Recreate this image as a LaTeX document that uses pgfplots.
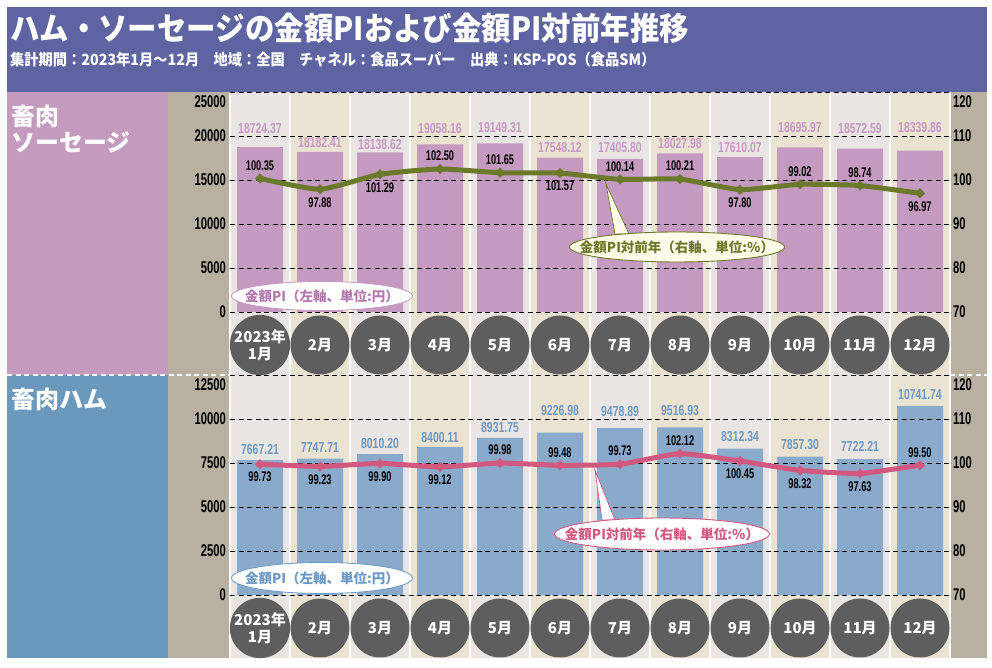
\documentclass[border=0pt]{standalone}
\usepackage{pgfplots}
\pgfplotsset{compat=1.18}
\usepackage{pgfplotstable}
\usepackage{fontspec}
\usetikzlibrary{shapes.geometric}
\setmainfont{Liberation Sans}
\newfontfamily\jp{Noto Sans CJK JP}
\newfontfamily\jptitle{Noto Sans CJK JP}[FakeStretch=0.92]
\newfontfamily\numc{Liberation Sans}[FakeStretch=0.66]
\newfontfamily\numd{Liberation Sans}[FakeStretch=0.72]

\definecolor{band}{RGB}{94,100,162}
\definecolor{sauspanel}{RGB}{196,154,191}
\definecolor{sausbar}{RGB}{196,154,192}
\definecolor{hampanel}{RGB}{107,153,190}
\definecolor{hambar}{RGB}{138,170,203}
\definecolor{strip}{RGB}{184,176,160}
\definecolor{colA}{RGB}{232,229,227}
\definecolor{colB}{RGB}{235,227,209}
\definecolor{circ}{RGB}{94,94,94}
\definecolor{sauslab}{RGB}{200,152,196}
\definecolor{sauslegend}{RGB}{180,120,175}
\definecolor{hamlab}{RGB}{108,152,196}
\definecolor{olive}{RGB}{107,122,42}
\definecolor{pinkl}{RGB}{210,88,128}
\definecolor{cream}{RGB}{255,251,232}

\pgfplotstableread{
x pi pish yoy ypos
0 18724.37 19 100.35 1
1 18182.41 9 97.88 -1
2 18138.62 8 101.29 -1
3 19058.16 16 102.50 1
4 19149.31 15.5 101.65 1
5 17548.12 10.5 101.57 -1
6 17405.80 11 100.14 1
7 18027.98 9.5 100.21 1
8 17610.07 10 97.80 -1
9 18695.97 19.5 99.02 1
10 18572.59 20.5 98.74 1
11 18339.86 22.6 96.97 -1
}\saus

\pgfplotstableread{
x pi pish yoy ypos
0 7667.21 11 99.73 -1
1 7747.71 11.6 99.23 -1
2 8010.20 11 99.90 -1
3 8400.11 10 99.12 -1
4 8931.75 10 99.98 1
5 9226.98 21.6 99.48 1
6 9478.89 17 99.73 1
7 9516.93 16.5 102.12 1
8 8312.34 11.7 100.45 -1
9 7857.30 11.7 98.32 -1
10 7722.21 13 97.63 -1
11 10741.74 11 99.50 1
}\ham

\pgfplotsset{
  base/.style={
    scale only axis, width=720bp, height=220bp,
    xmin=-0.5, xmax=11.5, clip=false,
    axis line style={draw=none}, major tick length=0pt,
    scaled y ticks=false,
    /pgf/number format/1000 sep={},
    /pgf/number format/assume math mode=true,
    tick label style={font=\numc\bfseries\fontsize{17bp}{17bp}\selectfont},
  },
  leftax/.style={
    base, ymajorgrids, axis on top,
    grid style={black, dash pattern=on 5bp off 3.5bp, line width=0.9bp},
    yticklabel style={anchor=east, inner sep=0pt, xshift=-4bp},
    extra y tick style={grid=major, yticklabel style={yshift=-10bp}},
    xtick={0,...,11},
    xticklabels={{2023年\\1月},2月,3月,4月,5月,6月,7月,8月,9月,10月,11月,12月},
    xticklabel style={circle, fill=circ, text=white, minimum size=59bp, inner sep=0pt,
      anchor=center, yshift=-33bp, align=center,
      font=\jp\bfseries\fontsize{15bp}{17bp}\selectfont},
  },
  rightax/.style={
    base, ymin=70, ymax=120, axis y line*=right, axis x line=none,
    ytick={70,80,...,110}, extra y ticks={120},
    extra y tick style={yticklabel style={yshift=-10bp}},
    yticklabel style={anchor=west, inner sep=0pt, xshift=3bp},
  },
}

\begin{document}
\begin{tikzpicture}[x=1bp, y=1bp]
\useasboundingbox (0,0) rectangle (992,668);
\fill[white] (0,0) rectangle (992,668);
% band
\fill[band] (7,576) rectangle (987,661);
\node[anchor=west, text=white, inner sep=0, font=\jptitle\bfseries\fontsize{32bp}{32bp}\selectfont] at (10,640) {ハム・ソーセージの金額PIおよび金額PI対前年推移};
\node[anchor=west, text=white, inner sep=0, font=\jptitle\bfseries\fontsize{15.5bp}{16bp}\selectfont] at (10,608) {集計期間：2023年1月～12月　地域：全国　チャネル：食品スーパー　出典：KSP-POS（食品SM）};
% panels
\fill[sauspanel] (7,293) rectangle (168,576);
\fill[hampanel] (7,10) rectangle (168,293);
\fill[strip] (168,10) rectangle (230,576);
\fill[strip] (950,10) rectangle (987,576);
\foreach \i in {0,...,11}{
  \pgfmathsetmacro\xa{230+60*\i}
  \ifodd\i \def\cc{colB}\else\def\cc{colA}\fi
  \fill[\cc] (\xa,10) rectangle ++(60,566);
}
\foreach \i in {0,...,12}{
  \draw[white, line width=2bp] (230+60*\i,10) -- (230+60*\i,576);
}
\draw[white, dash pattern=on 5bp off 3.5bp, line width=1.2bp] (7,293) -- (230,293) (950,293) -- (987,293);
\node[anchor=north west, text=white, inner sep=0, align=left, font=\jp\bfseries\fontsize{24bp}{26bp}\selectfont] at (11,563) {畜肉\\ソーセージ};
\node[anchor=north west, text=white, inner sep=0, align=left, font=\jp\bfseries\fontsize{24bp}{26bp}\selectfont] at (11,280) {畜肉ハム};

% ---------- sausage ----------
\begin{axis}[leftax, at={(230bp,356bp)}, anchor=south west,
  ymin=0, ymax=25000, ytick={0,5000,...,20000}, extra y ticks={25000}]
\addplot[ybar, bar width=46bp, fill=sausbar, draw=none,
  nodes near coords, point meta=explicit symbolic,
  visualization depends on={\thisrow{pish} \as \psh},
  every node near coord/.append style={anchor=center, yshift=\psh bp, text=sauslab,
    font=\numd\bfseries\fontsize{14.5bp}{15bp}\selectfont}]
  table[x=x, y=pi, meta=pi]{\saus};
\end{axis}
\begin{axis}[rightax, at={(230bp,356bp)}, anchor=south west]
\addplot[olive, line width=5bp, smooth, tension=0.3, mark=*, mark size=1.6bp,
  mark options={fill=white, draw=none},
  nodes near coords, point meta=explicit symbolic,
  visualization depends on={\thisrow{ypos} \as \yp},
  every node near coord/.append style={anchor=center, yshift=\yp*13bp, text=black,
    font=\numc\bfseries\fontsize{14bp}{14bp}\selectfont}]
  table[x=x, y=yoy, meta=yoy]{\saus};
\end{axis}

% ---------- ham ----------
\begin{axis}[leftax, at={(230bp,73bp)}, anchor=south west,
  ymin=0, ymax=12500, ytick={0,2500,...,10000}, extra y ticks={12500}]
\addplot[ybar, bar width=46bp, fill=hambar, draw=none,
  nodes near coords, point meta=explicit symbolic,
  visualization depends on={\thisrow{pish} \as \psh},
  every node near coord/.append style={anchor=center, yshift=\psh bp, text=hamlab,
    font=\numd\bfseries\fontsize{14.5bp}{15bp}\selectfont}]
  table[x=x, y=pi, meta=pi]{\ham};
\end{axis}
\begin{axis}[rightax, at={(230bp,73bp)}, anchor=south west]
\addplot[pinkl, line width=5bp, smooth, tension=0.3, mark=*, mark size=1.6bp,
  mark options={fill=white, draw=none},
  nodes near coords, point meta=explicit symbolic,
  visualization depends on={\thisrow{ypos} \as \yp},
  every node near coord/.append style={anchor=center, yshift=\yp*13bp, text=black,
    font=\numc\bfseries\fontsize{14bp}{14bp}\selectfont}]
  table[x=x, y=yoy, meta=yoy]{\ham};
\end{axis}

% ---------- legends ----------
\filldraw[fill=white, draw=sauslab, line width=0.8bp] (322,372) ellipse [x radius=90.5, y radius=14.5];
\node[text=sauslegend, font=\jp\bfseries\fontsize{13.5bp}{14bp}\selectfont] at (322,372) {金額PI（左軸、単位:円）};
\filldraw[fill=cream, draw=olive, line width=0.7bp] (606,484) -- (615,434) -- (629,434) -- cycle;
\filldraw[fill=cream, draw=olive, line width=0.9bp] (677,421) ellipse [x radius=107.5, y radius=15];
\node[text=olive, font=\jp\bfseries\fontsize{13.5bp}{14bp}\selectfont] at (677,421) {金額PI対前年（右軸、単位:\%）};

\filldraw[fill=white, draw=hamlab, line width=0.8bp] (322,90) ellipse [x radius=90.5, y radius=15.5];
\node[text=hamlab, font=\jp\bfseries\fontsize{13.5bp}{14bp}\selectfont] at (322,90) {金額PI（左軸、単位:円）};
\filldraw[fill=white, draw=pinkl, line width=0.7bp] (595,198) -- (602,148) -- (615,148) -- cycle;
\filldraw[fill=white, draw=pinkl, line width=0.9bp] (662,134) ellipse [x radius=107.5, y radius=16];
\node[text=pinkl, font=\jp\bfseries\fontsize{13.5bp}{14bp}\selectfont] at (662,134) {金額PI対前年（右軸、単位:\%）};
\end{tikzpicture}
\end{document}
